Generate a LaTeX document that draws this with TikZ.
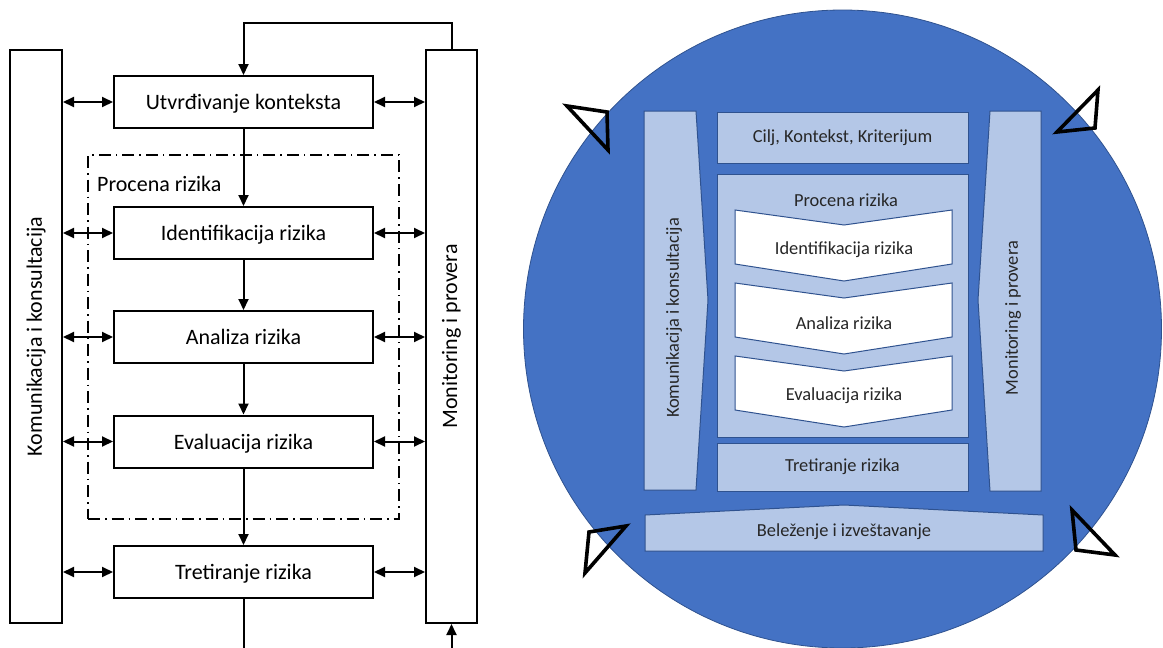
\documentclass[tikz,border=0pt]{standalone}
\usepackage{fontspec}
\setmainfont{Carlito}
\usetikzlibrary{arrows.meta}
\definecolor{cblue}{HTML}{4472C4}
\definecolor{cedge}{HTML}{2F528F}
\definecolor{clight}{HTML}{B4C7E7}
\definecolor{ctext}{HTML}{262626}
\tikzset{
 procbox/.style={draw, line width=2pt, minimum width=259pt, minimum height=52pt, inner sep=0pt, text depth=0pt, font=\fontsize{22}{26}\selectfont},
 sidebar/.style={draw, line width=2pt, minimum width=52pt, minimum height=573pt, inner sep=0pt},
 sidetext/.style={rotate=90, inner sep=0pt, font=\fontsize{22}{26}\selectfont},
 arr/.style={line width=2pt, -{Triangle[length=11pt,width=10pt]}},
 plainline/.style={line width=2pt},
 darr/.style={line width=2pt, {Triangle[length=11pt,width=10pt]}-{Triangle[length=11pt,width=10pt]}},
 dashdot/.style={draw, line width=1.5pt, dash pattern=on 12pt off 5pt on 1.5pt off 5pt, inner sep=0pt},
 lbox/.style={draw=cedge, fill=clight, line width=1pt, inner sep=0pt, text=ctext, font=\fontsize{18.4}{22}\selectfont},
 ltext/.style={text=ctext, inner sep=0pt, font=\fontsize{18.4}{22}\selectfont},
 lshape/.style={draw=cedge, fill=clight, line width=1pt, line join=miter},
 chev/.style={draw=cedge, fill=white, line width=1pt, line join=miter},
 rtri/.style={draw=black, line width=3.6pt, line join=miter},
}
\begin{document}
\begin{tikzpicture}[x=1pt,y=-1pt]
\useasboundingbox (0,0) rectangle (1163,648);
% ---------------- left diagram ----------------
\node[dashdot, minimum width=311pt, minimum height=364pt] (proc) at (243.5,337) {};
\node[anchor=west, inner sep=0pt, font=\fontsize{22}{26}\selectfont] (proclbl) at (97,184) {Procena rizika};
\node[sidebar] (kom) at (36,336.5) {};
\node[sidetext] (komt) at (kom.center) {Komunikacija i konsultacija};
\node[sidebar, minimum width=51pt] (mon) at (451.5,336.5) {};
\node[sidetext] (mont) at (mon.center) {Monitoring i provera};
\node[procbox] (ctx) at (243.5,102) {Utvrđivanje konteksta};
\node[procbox] (ident) at (243.5,233) {Identifikacija rizika};
\node[procbox] (anal) at (243.5,337) {Analiza rizika};
\node[procbox] (eval) at (243.5,441.5) {Evaluacija rizika};
\node[procbox] (tret) at (243.5,572) {Tretiranje rizika};
\draw[arr] (ctx.south) -- (ident.north);
\draw[arr] (ident.south) -- (anal.north);
\draw[arr] (anal.south) -- (eval.north);
\draw[arr] (eval.south) -- (tret.north);
\coordinate (outb) at (243.5,650);
\draw[plainline] (tret.south) -- (outb);
\coordinate (inb) at (451.5,650);
\draw[arr] (inb) -- (mon.south);
\draw[arr] (mon.north) -- ++(0,-26) -| (ctx.north);
\foreach \b in {ctx,ident,anal,eval,tret}{
  \draw[darr] (kom.east |- \b.west) -- (\b.west);
  \draw[darr] (\b.east) -- (mon.west |- \b.east);
}
% ---------------- right diagram ----------------
\node[circle, fill=cblue, draw=cedge, line width=0.8pt, minimum size=638pt, inner sep=0pt] (circ) at (842.5,329) {};
\node[lbox, minimum width=251pt, minimum height=51pt] (cilj) at (842.5,137.5) {Cilj, Kontekst, Kriterijum};
\node[lbox, minimum width=251pt, minimum height=263pt] (cont) at (842.5,305.5) {};
\node[ltext] (contl) at (846,200) {Procena rizika};
\node[lbox, minimum width=251pt, minimum height=48pt] (tretr) at (842.5,467) {Tretiranje rizika};
\draw[lshape] (644,111) -- (696,111) -- (708,300) -- (696,490) -- (644,490) -- cycle;
\node[ltext, rotate=90] (komr) at (674,318) {Komunikacija i konsultacija};
\draw[lshape] (990,111) -- (1041,111) -- (1041,491) -- (990,491) -- (978,300) -- cycle;
\node[ltext, rotate=90] (monr) at (1013,318) {Monitoring i provera};
\draw[lshape] (645,515) -- (844,505) -- (1043,515) -- (1043,551) -- (645,551) -- cycle;
\node[ltext] (bel) at (844,532) {Beleženje i izveštavanje};
\foreach \y/\nm/\t in {210/chi/Identifikacija rizika, 283/cha/Analiza rizika, 356/che/Evaluacija rizika}{
  \draw[chev] (735,\y) -- (844,\y+15) -- (952,\y) -- (952,\y+54) -- (844,\y+71) -- (735,\y+54) -- cycle;
  \node[ltext] (\nm) at (844,\y+40) {\t};
}
\draw[rtri] (567,106) -- (607,112) -- (608,150) -- cycle;
\draw[rtri] (1098,90) -- (1095,128) -- (1057,132) -- cycle;
\draw[rtri] (626,526) -- (589,532) -- (585,573) -- cycle;
\draw[rtri] (1072,510) -- (1076,550) -- (1115,555) -- cycle;
\end{tikzpicture}
\end{document}
